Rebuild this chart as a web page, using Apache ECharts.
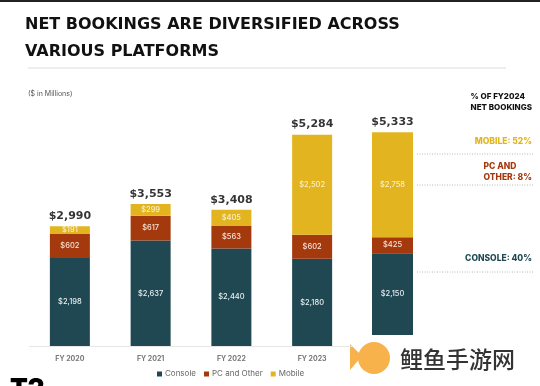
<!DOCTYPE html>
<html>
<head>
<meta charset="utf-8">
<script src="https://cdn.jsdelivr.net/npm/echarts@6/dist/echarts.min.js"></script>
<style>html,body{margin:0;padding:0;background:#fff}#c{width:540px;height:386px}</style>
</head>
<body>
<div id="c"></div>
<script>
const categories = ['FY 2020', 'FY 2021', 'FY 2022', 'FY 2023'];
const consoleValues = [2198, 2637, 2440, 2180];
const pcOtherValues = [602, 617, 563, 602];
const mobileValues = [191, 299, 405, 2502];
const totalValues = [2990, 3553, 3408, 5284];

const categories2024 = ['FY 2024'];
const console2024 = [2150];
const pcOther2024 = [425];
const mobile2024 = [2758];
const total2024 = [5333];

const shareLabels = ['MOBILE: 52%', 'PC AND\nOTHER: 8%', 'CONSOLE: 40%'];

const C_NAVY = '#1f4852';
const C_RED = '#a4390e';
const C_YEL = '#e2b420';
const FONT = 'Inter, "Noto Sans", sans-serif';
const HEAVY = '"DejaVu Sans", sans-serif';

const money = v => '$' + Number(v).toLocaleString('en-US');

const inLabel = (color) => ({
  show: true, position: 'inside', color: color, fontSize: 7.5,
  fontFamily: FONT, fontWeight: 500,
  formatter: p => money(p.value)
});

function barSeries(name, data, color, stack, idx, bw, lblColor) {
  return {
    name: name, type: 'bar', stack: stack, data: data,
    xAxisIndex: idx, yAxisIndex: idx, barWidth: bw,
    itemStyle: { color: color },
    label: inLabel(lblColor),
    emphasis: { disabled: true }
  };
}
function totalSeries(data, idx) {
  return {
    type: 'scatter', data: data, xAxisIndex: idx, yAxisIndex: idx,
    symbolSize: 1, itemStyle: { color: 'rgba(0,0,0,0)' },
    label: { show: true, position: 'top', distance: 4, color: '#000', fontSize: 11,
      fontWeight: 'bold', fontFamily: HEAVY, formatter: p => money(p.value) },
    silent: true
  };
}

const chart = echarts.init(document.getElementById('c'), null, { renderer: 'canvas' });
chart.setOption({
  animation: false,
  backgroundColor: '#fff',
  textStyle: { fontFamily: FONT },
  grid: [
    { left: 29.5, width: 323, top: 106, height: 240 },
    { left: 352, width: 81, top: 107, height: 228 }
  ],
  xAxis: [
    { type: 'category', gridIndex: 0, data: categories,
      axisLine: { lineStyle: { color: '#e6e6e6' } }, axisTick: { show: false },
      axisLabel: { color: '#777', fontSize: 7, fontWeight: 700, margin: 9, fontFamily: FONT } },
    { type: 'category', gridIndex: 1, data: categories2024,
      axisLine: { show: false }, axisTick: { show: false }, axisLabel: { show: false } }
  ],
  yAxis: [
    { type: 'value', gridIndex: 0, min: 0, max: 6000, show: false },
    { type: 'value', gridIndex: 1, min: 0, max: 6000, show: false }
  ],
  legend: {
    left: 152, top: 365, itemWidth: 5, itemHeight: 5, itemGap: 8,
    data: ['Console', 'PC and Other', 'Mobile'],
    textStyle: { color: '#666', fontSize: 8, fontFamily: FONT, padding: [0, 0, 0, -2] },
    icon: 'rect'
  },
  series: [
    barSeries('Console', consoleValues, C_NAVY, 'a', 0, 40, '#e8eef0'),
    barSeries('PC and Other', pcOtherValues, C_RED, 'a', 0, 40, '#f6e3d8'),
    barSeries('Mobile', mobileValues, C_YEL, 'a', 0, 40, '#fbefc4'),
    totalSeries(totalValues, 0),
    barSeries('Console', console2024, C_NAVY, 'b', 1, 41, '#e8eef0'),
    barSeries('PC and Other', pcOther2024, C_RED, 'b', 1, 41, '#f6e3d8'),
    barSeries('Mobile', mobile2024, C_YEL, 'b', 1, 41, '#fbefc4'),
    totalSeries(total2024, 1)
  ],
  graphic: [
    { type: 'rect', shape: { x: 0, y: 0, width: 540, height: 2 }, style: { fill: '#222' } },
    { type: 'text', left: 25, top: 11, style: { text: 'NET BOOKINGS ARE DIVERSIFIED ACROSS\nVARIOUS PLATFORMS',
        fill: '#111', font: 'bold 16px ' + HEAVY, lineHeight: 27 } },
    { type: 'line', shape: { x1: 28, y1: 68, x2: 506, y2: 68 }, style: { stroke: '#dcdcdc', lineWidth: 1 } },
    { type: 'text', left: 28, top: 90, style: { text: '($ in Millions)', fill: '#555', font: '400 7px ' + FONT } },
    { type: 'text', right: 8, top: 91, style: { text: '% OF FY2024\nNET BOOKINGS', fill: '#111',
        font: '800 8px ' + FONT, align: 'right', lineHeight: 11 } },
    { type: 'text', right: 8, top: 137, style: { text: shareLabels[0], fill: C_YEL, font: '800 8.5px ' + FONT, align: 'right' } },
    { type: 'line', shape: { x1: 417, y1: 154, x2: 534, y2: 154 }, style: { stroke: '#b8b8b8', lineWidth: 1, lineDash: [1, 1.5] } },
    { type: 'text', right: 8, top: 161, style: { text: shareLabels[1], fill: C_RED, font: '800 8.5px ' + FONT,
        align: 'right', lineHeight: 11 } },
    { type: 'line', shape: { x1: 417, y1: 185, x2: 534, y2: 185 }, style: { stroke: '#b8b8b8', lineWidth: 1, lineDash: [1, 1.5] } },
    { type: 'text', right: 8, top: 254, style: { text: shareLabels[2], fill: C_NAVY, font: '800 8.5px ' + FONT, align: 'right' } },
    { type: 'line', shape: { x1: 417, y1: 272, x2: 534, y2: 272 }, style: { stroke: '#b8b8b8', lineWidth: 1, lineDash: [1, 1.5] } },
    { type: 'circle', shape: { cx: 374, cy: 358, r: 16 }, style: { fill: '#f7b24c' } },
    { type: 'polygon', shape: { points: [[350, 344], [362, 356], [350, 370]] }, style: { fill: '#f7b24c' } },
    { type: 'text', left: 400, top: 348, style: { text: '鲤鱼手游网', fill: '#333',
        font: '500 23px "Noto Sans CJK SC", sans-serif' } },
    { type: 'text', left: 10, top: 376, style: { text: 'T2', fill: '#000', font: '900 26px ' + FONT } }
  ]
});
</script>
</body>
</html>
